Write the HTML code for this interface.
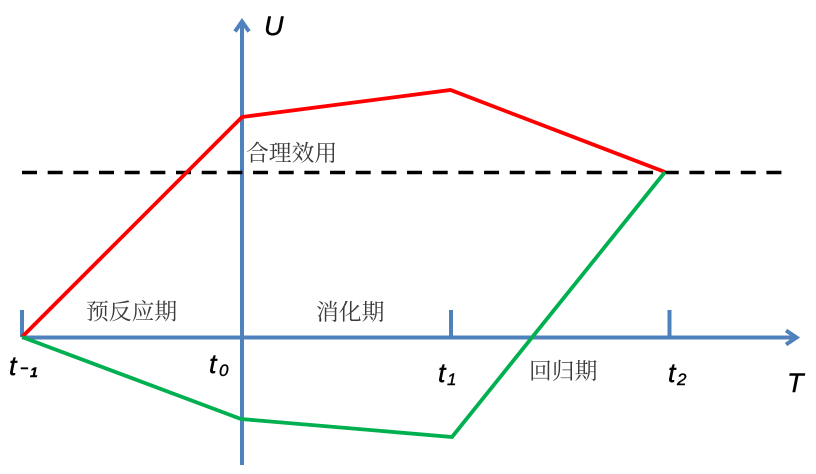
<!DOCTYPE html>
<html>
<head>
<meta charset="utf-8">
<style>
html,body{margin:0;padding:0;background:#fff;width:816px;height:474px;overflow:hidden}
svg{display:block}
.cn{font-family:"Noto Serif CJK SC","Liberation Serif",serif;font-size:22.8px;fill:#3a3a3a;font-weight:400}
.it{font-family:"Liberation Sans",sans-serif;font-style:italic;fill:#000;stroke:#000;stroke-width:.4}
</style>
</head>
<body>
<svg width="816" height="474" viewBox="0 0 816 474" xmlns="http://www.w3.org/2000/svg">
<g stroke="#4f81bd" stroke-width="4" fill="none">
<line x1="22" y1="337.5" x2="796" y2="337.5"/>
<line x1="242" y1="465" x2="242" y2="22"/>
<line x1="22" y1="310" x2="22" y2="337"/>
<line x1="451" y1="310" x2="451" y2="337"/>
<line x1="669.5" y1="310" x2="669.5" y2="337"/>
<polyline points="786,330.5 796.5,337.5 786,344.5"/>
<polyline points="235,31.5 242,21.5 249,31.5"/>
</g>
<line x1="22" y1="172.5" x2="782" y2="172.5" stroke="#000" stroke-width="3.6" stroke-dasharray="15 10.67"/>
<polyline points="22,337 242,117 450.5,90 665,172" fill="none" stroke="#ff0000" stroke-width="3.8"/>
<polyline points="22,337 241,419 452,437 665,172" fill="none" stroke="#00b050" stroke-width="3.8"/>
<text class="cn" x="86" y="319.5">预反应期</text>
<text class="cn" x="246" y="161">合理效用</text>
<text class="cn" x="316" y="320">消化期</text>
<text class="cn" x="529" y="379">回归期</text>
<text class="it" x="264" y="35" font-size="27">U</text>
<text class="it" x="787" y="392" font-size="27">T</text>
<text class="it" x="9" y="375" font-size="27">t</text>
<text class="it" x="20" y="373" font-size="14" font-weight="700">−</text>
<text class="it" x="30" y="377" font-size="14" font-weight="700">1</text>
<text class="it" x="209" y="373" font-size="27">t</text>
<text class="it" x="219" y="376" font-size="17">0</text>
<text class="it" x="438" y="382" font-size="27">t</text>
<text class="it" x="447" y="385" font-size="17">1</text>
<text class="it" x="668" y="382" font-size="27">t</text>
<text class="it" x="677" y="385" font-size="17">2</text>
</svg>
</body>
</html>
